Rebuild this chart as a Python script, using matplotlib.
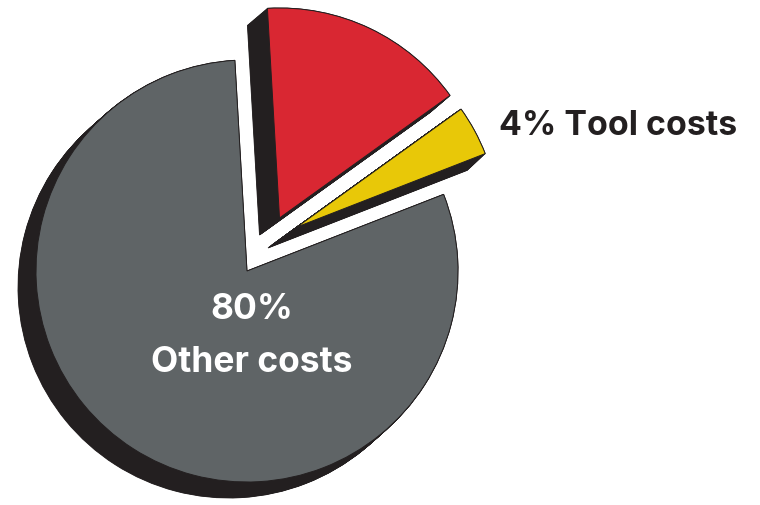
import matplotlib
matplotlib.use('Agg')
import matplotlib.pyplot as plt
from matplotlib.patches import Wedge

# cost shares in percent
categories = ['Other costs', 'Third share', 'Tool costs']
shares = [80, 16, 4]
colors = ['#5f6466', '#d92732', '#e8c808']

DARK = '#231f20'
HEIGHT = 506
START = 93.3


def flip(x, y):
    # positions below are measured from the top left corner
    return x, HEIGHT - y


def extrude(ax, c0, r0, c1, r1, t1, t2, steps=40):
    # sweep a dark copy of the wedge from its face back to the far end
    for i in range(steps + 1):
        f = i / steps
        cx = c0[0] + (c1[0] - c0[0]) * f
        cy = c0[1] + (c1[1] - c0[1]) * f
        r = r0 + (r1 - r0) * f
        ax.add_patch(Wedge(flip(cx, cy), r, t1, t2, facecolor=DARK, edgecolor=DARK, linewidth=0.6, zorder=1))


fig = plt.figure(figsize=(7.6, 5.06), dpi=100)
ax = fig.add_axes([0, 0, 1, 1])
ax.set_xlim(0, 760)
ax.set_ylim(0, HEIGHT)
ax.axis('off')

# gray slice runs counter clockwise from the start angle, the others clockwise
gray_end = START + shares[0] * 3.6
red_end = START - shares[1] * 3.6
yellow_end = red_end - shares[2] * 3.6

slices = [
    (shares[0], (247, 272), 211, (229, 288), 211, START, gray_end),
    (shares[1], (279.5, 219), 210, (259.5, 236), 210, red_end, START),
    (shares[2], (297, 228), 202, (268, 249), 214, yellow_end, red_end),
]

for (share, c0, r0, c1, r1, t1, t2), color in zip(slices, colors):
    extrude(ax, c0, r0, c1, r1, t1, t2)
    ax.add_patch(Wedge(flip(*c0), r0, t1, t2, facecolor=color, edgecolor=DARK, linewidth=0.7, zorder=2))

font = ['Inter', 'DejaVu Sans']
ax.text(*flip(252, 319), f'{shares[0]}%', color='white', fontsize=25.5, fontweight='bold',
        family=font, ha='center', va='baseline', zorder=3)
ax.text(*flip(252, 372), categories[0], color='white', fontsize=25.5, fontweight='bold',
        family=font, ha='center', va='baseline', zorder=3)
ax.text(*flip(499, 135), f'{shares[2]}% {categories[2]}', color=DARK, fontsize=24.4, fontweight='bold',
        family=font, ha='left', va='baseline', zorder=3)

fig.savefig('out.png', dpi=100, facecolor='white')
